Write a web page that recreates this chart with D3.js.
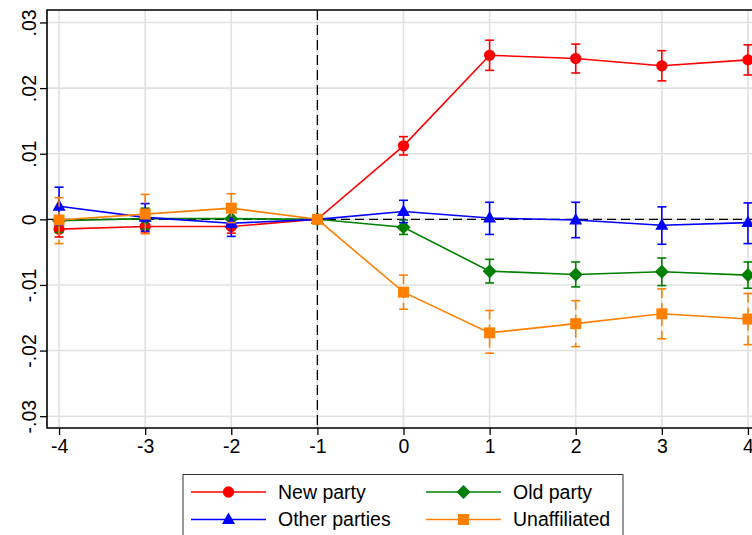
<!DOCTYPE html>
<html>
<head>
<meta charset="utf-8">
<script src="https://cdn.jsdelivr.net/npm/d3@7"></script>
<style>
  html, body { margin: 0; padding: 0; background: #fff; overflow: hidden; }
  svg { display: block; font-family: "Liberation Sans", Arial, sans-serif; }
</style>
</head>
<body>
<svg id="chart" width="752" height="535"></svg>
<script>
// Event time (periods relative to the switch)
const periods = [-4, -3, -2, -1, 0, 1, 2, 3, 4];

// Point estimates and 95% confidence bounds per series
const newParty    = [-0.0015, -0.0011, -0.0011, 0, 0.0112, 0.0250, 0.0245, 0.0234, 0.0243];
const newPartyLo  = [-0.0027, -0.0021, -0.0021, 0, 0.0098, 0.0227, 0.0223, 0.0211, 0.0220];
const newPartyHi  = [-0.0003, -0.0001, -0.0001, 0, 0.0126, 0.0273, 0.0267, 0.0257, 0.0266];

const oldParty    = [-0.0002, 0.0001, 0.0001, 0, -0.0012, -0.0079, -0.0084, -0.0080, -0.0085];
const oldPartyLo  = [-0.0020, -0.0015, -0.0012, 0, -0.0023, -0.0097, -0.0103, -0.0101, -0.0105];
const oldPartyHi  = [0.0016, 0.0017, 0.0014, 0, -0.0001, -0.0061, -0.0065, -0.0059, -0.0065];

const otherParties   = [0.0020, 0.0003, -0.0006, 0, 0.0012, 0.0002, -0.0001, -0.0009, -0.0005];
const otherPartiesLo = [-0.0009, -0.0018, -0.0026, 0, -0.0005, -0.0023, -0.0028, -0.0038, -0.0037];
const otherPartiesHi = [0.0049, 0.0024, 0.0014, 0, 0.0029, 0.0026, 0.0026, 0.0019, 0.0025];

const unaffiliated   = [-0.0001, 0.0008, 0.0017, 0, -0.0111, -0.0173, -0.0159, -0.0144, -0.0152];
const unaffiliatedLo = [-0.0037, -0.0022, -0.0005, 0, -0.0137, -0.0204, -0.0194, -0.0182, -0.0191];
const unaffiliatedHi = [0.0033, 0.0038, 0.0039, 0, -0.0085, -0.0139, -0.0124, -0.0106, -0.0113];

// Axis ticks
const xTicks = [-4, -3, -2, -1, 0, 1, 2, 3, 4];
const xTickLabels = ["-4", "-3", "-2", "-1", "0", "1", "2", "3", "4"];
const yTicks = [-0.03, -0.02, -0.01, 0, 0.01, 0.02, 0.03];
const yTickLabels = ["-.03", "-.02", "-.01", "0", ".01", ".02", ".03"];

const seriesNames = ["New party", "Old party", "Other parties", "Unaffiliated"];

const series = [
  { name: seriesNames[0], est: newParty, lo: newPartyLo, hi: newPartyHi, color: "#ff0000", symbol: "circle", ciDash: null },
  { name: seriesNames[1], est: oldParty, lo: oldPartyLo, hi: oldPartyHi, color: "#008000", symbol: "diamond", ciDash: null },
  { name: seriesNames[2], est: otherParties, lo: otherPartiesLo, hi: otherPartiesHi, color: "#0000ff", symbol: "triangle", ciDash: null },
  { name: seriesNames[3], est: unaffiliated, lo: unaffiliatedLo, hi: unaffiliatedHi, color: "#ff8000", symbol: "square", ciDash: "9,5" }
];

const svg = d3.select("#chart");

// Plot region (right edge runs slightly past the canvas)
const plot = { left: 47, right: 760, top: 10, bottom: 428 };

const x = d3.scaleLinear().domain([-4.14, 4.14]).range([plot.left, plot.right]);
const y = d3.scaleLinear().domain([-0.0318, 0.0319]).range([plot.bottom, plot.top]);

// Grid lines
const grid = svg.append("g").attr("class", "grid");
grid.selectAll("line.gx").data(xTicks).join("line")
  .attr("x1", d => x(d)).attr("x2", d => x(d))
  .attr("y1", plot.top).attr("y2", plot.bottom)
  .attr("stroke", "#e1e1e1").attr("stroke-width", 1.6);
grid.selectAll("line.gy").data(yTicks).join("line")
  .attr("x1", plot.left).attr("x2", plot.right)
  .attr("y1", d => y(d)).attr("y2", d => y(d))
  .attr("stroke", "#e1e1e1").attr("stroke-width", 1.6);

// Reference lines: zero effect and the period before the event
svg.append("line")
  .attr("x1", plot.left).attr("x2", plot.right)
  .attr("y1", y(0)).attr("y2", y(0))
  .attr("stroke", "#000").attr("stroke-width", 1.3).attr("stroke-dasharray", "9,5");
svg.append("line")
  .attr("x1", x(-1)).attr("x2", x(-1))
  .attr("y1", plot.top).attr("y2", plot.bottom)
  .attr("stroke", "#000").attr("stroke-width", 1.3).attr("stroke-dasharray", "10,5");

// Axes
const xAxis = d3.axisBottom(x).tickValues(xTicks).tickSize(7).tickPadding(4)
  .tickFormat((d, i) => xTickLabels[i]);
const gx = svg.append("g").attr("transform", `translate(0,${plot.bottom})`).call(xAxis);
gx.select(".domain").remove();
gx.selectAll(".tick line").attr("stroke", "#000").attr("stroke-width", 1.3);
gx.selectAll(".tick text").attr("font-size", 19.5).attr("fill", "#000")
  .attr("font-family", "Liberation Sans, Arial, sans-serif");

const yAxis = d3.axisLeft(y).tickValues(yTicks).tickSize(7)
  .tickFormat((d, i) => yTickLabels[i]);
const gy = svg.append("g").attr("transform", `translate(${plot.left},0)`).call(yAxis);
gy.select(".domain").remove();
gy.selectAll(".tick line").attr("stroke", "#000").attr("stroke-width", 1.3);
gy.selectAll(".tick text")
  .attr("font-size", 19.5).attr("fill", "#000")
  .attr("font-family", "Liberation Sans, Arial, sans-serif")
  .attr("text-anchor", "middle")
  .attr("x", null).attr("dy", null)
  .attr("transform", "translate(-18,0) rotate(-90)")
  .attr("y", 0).attr("dy", "0.35em");

// Plot frame: left, bottom and top edges
svg.append("path")
  .attr("d", `M${plot.right},${plot.top}H${plot.left}V${plot.bottom}H${plot.right}`)
  .attr("fill", "none").attr("stroke", "#000").attr("stroke-width", 1.6);

// Marker shapes
const symbolPath = {
  circle:   d3.symbol().type(d3.symbolCircle).size(100)(),
  diamond:  "M0,-7L7,0L0,7L-7,0Z",
  triangle: "M0,-7L6.5,4.5L-6.5,4.5Z",
  square:   "M-5.5,-5.5H5.5V5.5H-5.5Z"
};

const line = d3.line().x(d => x(d.p)).y(d => y(d.v));
const capHalf = 4.5;

series.forEach(s => {
  const g = svg.append("g");
  const rows = periods.map((p, i) => ({ p, v: s.est[i], lo: s.lo[i], hi: s.hi[i] }));

  // Confidence intervals with caps
  const ci = g.append("g")
    .attr("stroke", s.color).attr("stroke-width", 1.6).attr("fill", "none");
  rows.filter(r => r.hi !== r.lo).forEach(r => {
    ci.append("line")
      .attr("x1", x(r.p)).attr("x2", x(r.p))
      .attr("y1", y(r.hi)).attr("y2", y(r.lo))
      .attr("stroke-dasharray", s.ciDash);
    ci.append("line")
      .attr("x1", x(r.p) - capHalf).attr("x2", x(r.p) + capHalf)
      .attr("y1", y(r.hi)).attr("y2", y(r.hi));
    ci.append("line")
      .attr("x1", x(r.p) - capHalf).attr("x2", x(r.p) + capHalf)
      .attr("y1", y(r.lo)).attr("y2", y(r.lo));
  });

  // Connected estimates
  g.append("path").datum(rows)
    .attr("d", line)
    .attr("fill", "none").attr("stroke", s.color).attr("stroke-width", 1.6);

  g.selectAll("path.mk").data(rows).join("path")
    .attr("class", "mk")
    .attr("d", symbolPath[s.symbol])
    .attr("transform", d => `translate(${x(d.p)},${y(d.v)})`)
    .attr("fill", s.color);
});

// Legend
const legend = svg.append("g");
legend.append("rect")
  .attr("x", 183).attr("y", 474.5).attr("width", 440).attr("height", 80)
  .attr("fill", "#fff").attr("stroke", "#333").attr("stroke-width", 1);

series.forEach((s, i) => {
  const col = i % 2, row = Math.floor(i / 2);
  const x0 = 191 + col * 235;
  const yy = 492 + row * 27.5;
  const item = legend.append("g");
  item.append("line")
    .attr("x1", x0).attr("x2", x0 + 75)
    .attr("y1", yy).attr("y2", yy)
    .attr("stroke", s.color).attr("stroke-width", 1.6);
  item.append("path")
    .attr("d", symbolPath[s.symbol])
    .attr("transform", `translate(${x0 + 37.5},${yy})`)
    .attr("fill", s.color);
  item.append("text")
    .attr("x", x0 + 87).attr("y", yy).attr("dy", "0.35em")
    .attr("font-size", 19.5).attr("fill", "#000")
    .text(s.name);
});
</script>
</body>
</html>
